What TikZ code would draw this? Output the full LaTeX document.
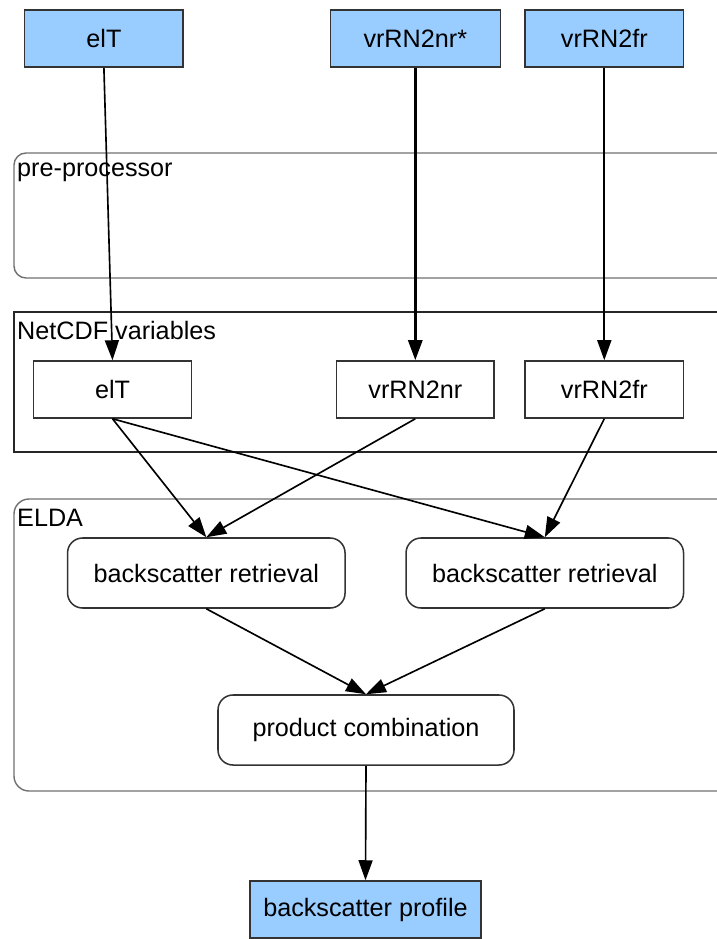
\documentclass[tikz,border=0pt]{standalone}
\usepackage{fontspec}
\setmainfont{Liberation Sans}
\usetikzlibrary{arrows.meta}
\definecolor{inblue}{HTML}{99CCFF}
\definecolor{framegray}{HTML}{707070}
\tikzset{
  txt/.style={font=\fontsize{21.5}{25}\selectfont},
  iobox/.style={txt,draw=black!80,line width=1.3pt,fill=inblue,minimum height=1.71cm,inner sep=0pt},
  varbox/.style={txt,draw=black!80,line width=1.3pt,minimum height=1.71cm,minimum width=4.75cm,inner sep=0pt},
  stepbox/.style={txt,draw=black!80,line width=1.3pt,rounded corners=0.45cm,minimum height=2.1cm,inner sep=0pt},
  frame/.style={draw=framegray,line width=1.2pt},
  flow/.style={line width=1.4pt,-{Triangle[length=0.6cm,width=0.42cm]}}
}
\begin{document}
\begin{tikzpicture}[x=0.03cm,y=-0.03cm]
\useasboundingbox (0,0) rectangle (716,939);
%frames
\draw[frame,rounded corners=0.36cm] (14,153) rectangle (740,278);
\draw[frame,draw=black!85] (14,312) rectangle (740,452);
\draw[frame,rounded corners=0.45cm] (14,499) rectangle (740,791);
\node[txt,anchor=west,inner sep=0pt] (preL) at (17,172) {pre-processor};
\node[txt,anchor=west,inner sep=0pt] (netL) at (17,330) {NetCDF variables};
\node[txt,anchor=west,inner sep=0pt] (eldaL) at (17,518) {ELDA};
%inputs
\node[iobox,minimum width=4.75cm] (elTin) at (103.9,38.5) {elT};
\node[iobox,minimum width=5.1cm] (nrin) at (415.3,38.5) {vrRN2nr*};
\node[iobox,minimum width=4.76cm] (frin) at (604.3,38.5) {vrRN2fr};
%variables
\node[varbox] (elT) at (112.5,389.5) {elT};
\node[varbox,minimum width=4.725cm] (nr) at (415.3,389.5) {vrRN2nr};
\node[varbox] (fr) at (604.3,389.5) {vrRN2fr};
%ELDA
\node[stepbox,minimum width=8.325cm] (retA) at (206.3,573) {backscatter retrieval};
\node[stepbox,minimum width=8.325cm] (retB) at (544.8,573) {backscatter retrieval};
\node[stepbox,minimum width=8.88cm] (comb) at (366,730) {product combination};
\node[iobox,minimum width=6.93cm] (prof) at (365.5,909.5) {backscatter profile};
%arrows
\draw[flow] (elTin.south) -- (elT.north);
\draw[flow,line width=2.4pt] (nrin.south) -- (nr.north);
\draw[flow] (frin.south) -- (fr.north);
\draw[flow] (elT.south) -- (retA.north);
\draw[flow] (elT.south) -- (retB.north);
\draw[flow] (nr.south) -- (retA.north);
\draw[flow] (fr.south) -- (retB.north);
\draw[flow] (retA.south) -- (comb.north);
\draw[flow] (retB.south) -- (comb.north);
\draw[flow] (comb.south) -- (prof.north);
\end{tikzpicture}
\end{document}
